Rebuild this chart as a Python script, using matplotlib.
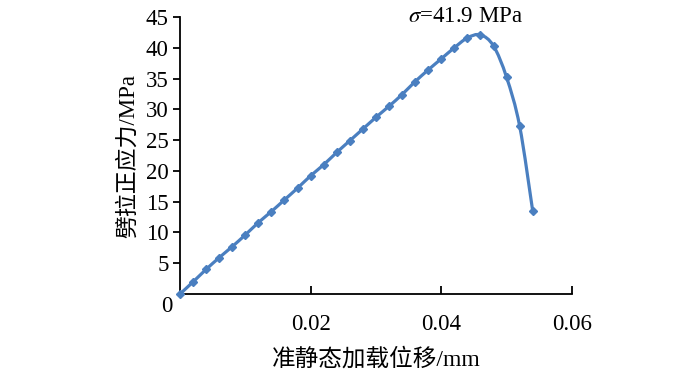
import matplotlib
matplotlib.use("Agg")
import matplotlib.pyplot as plt
import numpy as np
from matplotlib.path import Path
from matplotlib.patches import PathPatch

x_disp = [0.000, 0.002, 0.004, 0.006, 0.008, 0.010, 0.012, 0.014, 0.016, 0.018,
          0.020, 0.022, 0.024, 0.026, 0.028, 0.030, 0.032, 0.034, 0.036, 0.038,
          0.040, 0.042, 0.044, 0.046, 0.048, 0.050, 0.052, 0.054]
y_stress = [0.0, 1.96, 4.0, 5.9, 7.7, 9.6, 11.6, 13.4, 15.3, 17.2,
            19.2, 21.0, 23.0, 24.9, 26.8, 28.7, 30.5, 32.4, 34.5, 36.4,
            38.2, 40.0, 41.6, 42.1, 40.3, 35.2, 27.3, 13.5]
x_ticks = [0.02, 0.04, 0.06]
x_tick_labels = ["0.02", "0.04", "0.06"]
y_ticks = [5, 10, 15, 20, 25, 30, 35, 40, 45]
annot_text = r"$\sigma$=41.9 MPa"
xlabel = "准静态加载位移/mm"
ylabel = "劈拉正应力/MPa"

plt.rcParams['mathtext.fontset'] = 'stix'
serif = ['Liberation Serif', 'DejaVu Serif']
mixed = ['Liberation Serif', 'Noto Sans CJK SC', 'DejaVu Sans']
color = '#4a7fc0'

fig = plt.figure(figsize=(7, 3.77), dpi=100)
ax = fig.add_axes([0.257, 0.22, 0.56, 0.735])

# smooth line (Catmull-Rom -> cubic Bezier) through data points
xs = np.array(x_disp); ys = np.array(y_stress)
verts = [(xs[0], ys[0])]; codes = [Path.MOVETO]
n = len(xs)
for i in range(n - 1):
    p0 = np.array([xs[max(i - 1, 0)], ys[max(i - 1, 0)]])
    p1 = np.array([xs[i], ys[i]])
    p2 = np.array([xs[i + 1], ys[i + 1]])
    p3 = np.array([xs[min(i + 2, n - 1)], ys[min(i + 2, n - 1)]])
    c1 = p1 + (p2 - p0) / 6.0
    c2 = p2 - (p3 - p1) / 6.0
    verts += [tuple(c1), tuple(c2), tuple(p2)]
    codes += [Path.CURVE4] * 3
ax.add_patch(PathPatch(Path(verts, codes), facecolor='none', edgecolor=color, lw=2.3, zorder=2))
ax.plot(xs, ys, linestyle='none', marker='D', ms=4.5, color=color, zorder=3, clip_on=False)

ax.set_xlim(0, 0.06)
ax.set_ylim(0, 45)
for s in ['top', 'right']:
    ax.spines[s].set_visible(False)
for s in ['left', 'bottom']:
    ax.spines[s].set_linewidth(1.3)
ax.set_xticks(x_ticks)
ax.set_xticklabels(x_tick_labels, fontfamily=serif, fontsize=16.5)
ax.set_yticks(y_ticks)
ax.set_yticklabels([str(v) for v in y_ticks], fontfamily=serif, fontsize=16.5)
ax.tick_params(axis='x', direction='in', length=6, width=1.3, pad=14)
ax.tick_params(axis='y', direction='out', length=5, width=1.3, pad=3)
ax.text(-0.0012, -2.0, "0", ha='right', va='center', fontfamily=serif, fontsize=16.5)

ax.text(0.0437, 45.0, annot_text, ha='center', va='center', fontfamily=serif, fontsize=16.5)
ax.set_xlabel(xlabel, fontfamily=mixed, fontsize=17, labelpad=10)
ax.set_ylabel(ylabel, fontfamily=mixed, fontsize=16.5, labelpad=5)

fig.savefig("out.png", dpi=100)
